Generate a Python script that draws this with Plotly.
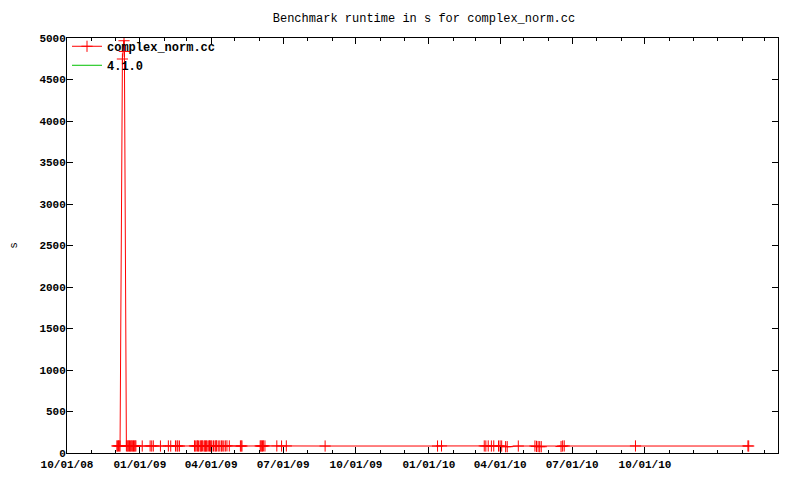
import plotly.graph_objects as go

# ---- data ----
dates = [
    "2008-12-03", "2008-12-04", "2008-12-05", "2008-12-06", "2008-12-07",
    "2008-12-10", "2008-12-12", "2008-12-12 12:00",
    "2008-12-15", "2008-12-16", "2008-12-17", "2008-12-18", "2008-12-19", "2008-12-20",
    "2008-12-21", "2008-12-22", "2008-12-23", "2008-12-24", "2008-12-25", "2008-12-26",
    "2008-12-27",
    "2009-01-04", "2009-01-14", "2009-01-16", "2009-01-18", "2009-01-27",
    "2009-02-06", "2009-02-09", "2009-02-15", "2009-02-17", "2009-02-18", "2009-02-20",
    "2009-03-11", "2009-03-12", "2009-03-14", "2009-03-15", "2009-03-16", "2009-03-18",
    "2009-03-19", "2009-03-20", "2009-03-21", "2009-03-23", "2009-03-24", "2009-03-25",
    "2009-03-26", "2009-03-27", "2009-03-29", "2009-03-30", "2009-03-31", "2009-04-01",
    "2009-04-02", "2009-04-04", "2009-04-06", "2009-04-07", "2009-04-08", "2009-04-10",
    "2009-04-12", "2009-04-14", "2009-04-15", "2009-04-17", "2009-04-19", "2009-04-21",
    "2009-04-24", "2009-05-08", "2009-05-09", "2009-05-10",
    "2009-06-02", "2009-06-03", "2009-06-04", "2009-06-05", "2009-06-06", "2009-06-08",
    "2009-06-23", "2009-06-29", "2009-07-05", "2009-08-23",
    "2010-01-12", "2010-01-17",
    "2010-03-12", "2010-03-14", "2010-03-17", "2010-03-21", "2010-03-24", "2010-03-30",
    "2010-04-01", "2010-04-03", "2010-04-08", "2010-04-10",
    "2010-04-24", "2010-05-15", "2010-05-17", "2010-05-19", "2010-05-21", "2010-05-23",
    "2010-06-17", "2010-06-19", "2010-06-21",
    "2010-09-19", "2011-02-08", "2011-02-09",
]
runtime_s = [
    85, 84, 86, 85, 84,
    4747, 4967, 4838,
    86, 85, 84, 86, 85, 84,
    85, 86, 84, 85, 84, 86,
    85,
    84, 85, 84, 85, 84,
    85, 84, 85, 84, 85, 84,
    85, 84, 85, 86, 84, 85,
    84, 85, 86, 84, 85, 84,
    85, 84, 85, 86, 84, 85,
    84, 85, 84, 85, 86, 84,
    85, 84, 85, 84, 85, 86,
    85, 84, 85, 84,
    85, 84, 85, 84, 86, 85,
    85, 84, 85, 84,
    84, 85,
    85, 84, 85, 84, 85, 84,
    85, 84, 76, 76,
    84, 84, 80, 78, 76, 76,
    78, 84, 85,
    85, 85, 84,
]

release_name = "4.1.0"
release_dates = [None]
release_values = [None]

x_tickvals = ["2008-10-01", "2009-01-01", "2009-04-01", "2009-07-01", "2009-10-01",
              "2010-01-01", "2010-04-01", "2010-07-01", "2010-10-01"]
x_ticktext = ["10/01/08", "01/01/09", "04/01/09", "07/01/09", "10/01/09",
              "01/01/10", "04/01/10", "07/01/10", "10/01/10"]
x_minor = ["2008-11-01", "2008-12-01", "2009-02-01", "2009-03-01", "2009-05-01",
           "2009-06-01", "2009-08-01", "2009-09-01", "2009-11-01", "2009-12-01",
           "2010-02-01", "2010-03-01", "2010-05-01", "2010-06-01", "2010-08-01",
           "2010-09-01", "2010-11-01", "2010-12-01", "2011-01-01", "2011-02-01",
           "2011-03-01"]
y_tickvals = [0, 500, 1000, 1500, 2000, 2500, 3000, 3500, 4000, 4500, 5000]

FONT = "Liberation Mono"

fig = go.Figure()
fig.add_trace(go.Scatter(
    x=dates, y=runtime_s, name="complex_norm.cc", mode="lines+markers",
    line=dict(color="#ff0000", width=1),
    marker=dict(symbol="cross-thin", size=8, color="#ff0000",
                line=dict(color="#ff0000", width=1)),
))
fig.add_trace(go.Scatter(
    x=release_dates, y=release_values, name=release_name, mode="lines",
    line=dict(color="#00c000", width=1),
))

W, H = 790, 472
fig.update_layout(
    width=W, height=H,
    margin=dict(l=59, r=20, t=30, b=27, autoexpand=False),
    paper_bgcolor="white", plot_bgcolor="white",
    title=dict(text="Benchmark runtime in s for complex_norm.cc",
               x=416 / W, xanchor="center", y=1 - 10 / H, yanchor="middle",
               font=dict(family=FONT, size=12, color="black")),
    legend=dict(x=0.0, y=1.015, xanchor="left", yanchor="top",
                bgcolor="rgba(0,0,0,0)", borderwidth=0,
                font=dict(family=FONT, size=12, color="black", weight="bold"),
                tracegroupgap=0, itemwidth=30),
    showlegend=True,
)
fig.update_xaxes(
    type="date", range=["2008-10-01", "2011-03-18"], automargin=False,
    tickmode="array", tickvals=x_tickvals, ticktext=x_ticktext,
    ticks="inside", ticklen=6, tickwidth=1, tickcolor="black",
    showline=True, linecolor="black", linewidth=1, mirror="ticks",
    showgrid=False, zeroline=False, ticklabelstandoff=1,
    minor=dict(tickvals=x_minor, ticks="inside", ticklen=3, tickcolor="black", showgrid=False),
    tickfont=dict(family=FONT, size=11, color="black", weight="bold"),
)
fig.update_yaxes(
    range=[0, 5000], tickmode="array", tickvals=y_tickvals, automargin=False,
    ticks="inside", ticklen=6, tickwidth=1, tickcolor="black",
    showline=True, linecolor="black", linewidth=1, mirror="ticks",
    showgrid=False, zeroline=False, ticklabelstandoff=-2,
    tickfont=dict(family=FONT, size=11, color="black", weight="bold"),
    title=dict(text="s", standoff=29, font=dict(family=FONT, size=11, color="black")),
)

fig.write_html("out.html")
